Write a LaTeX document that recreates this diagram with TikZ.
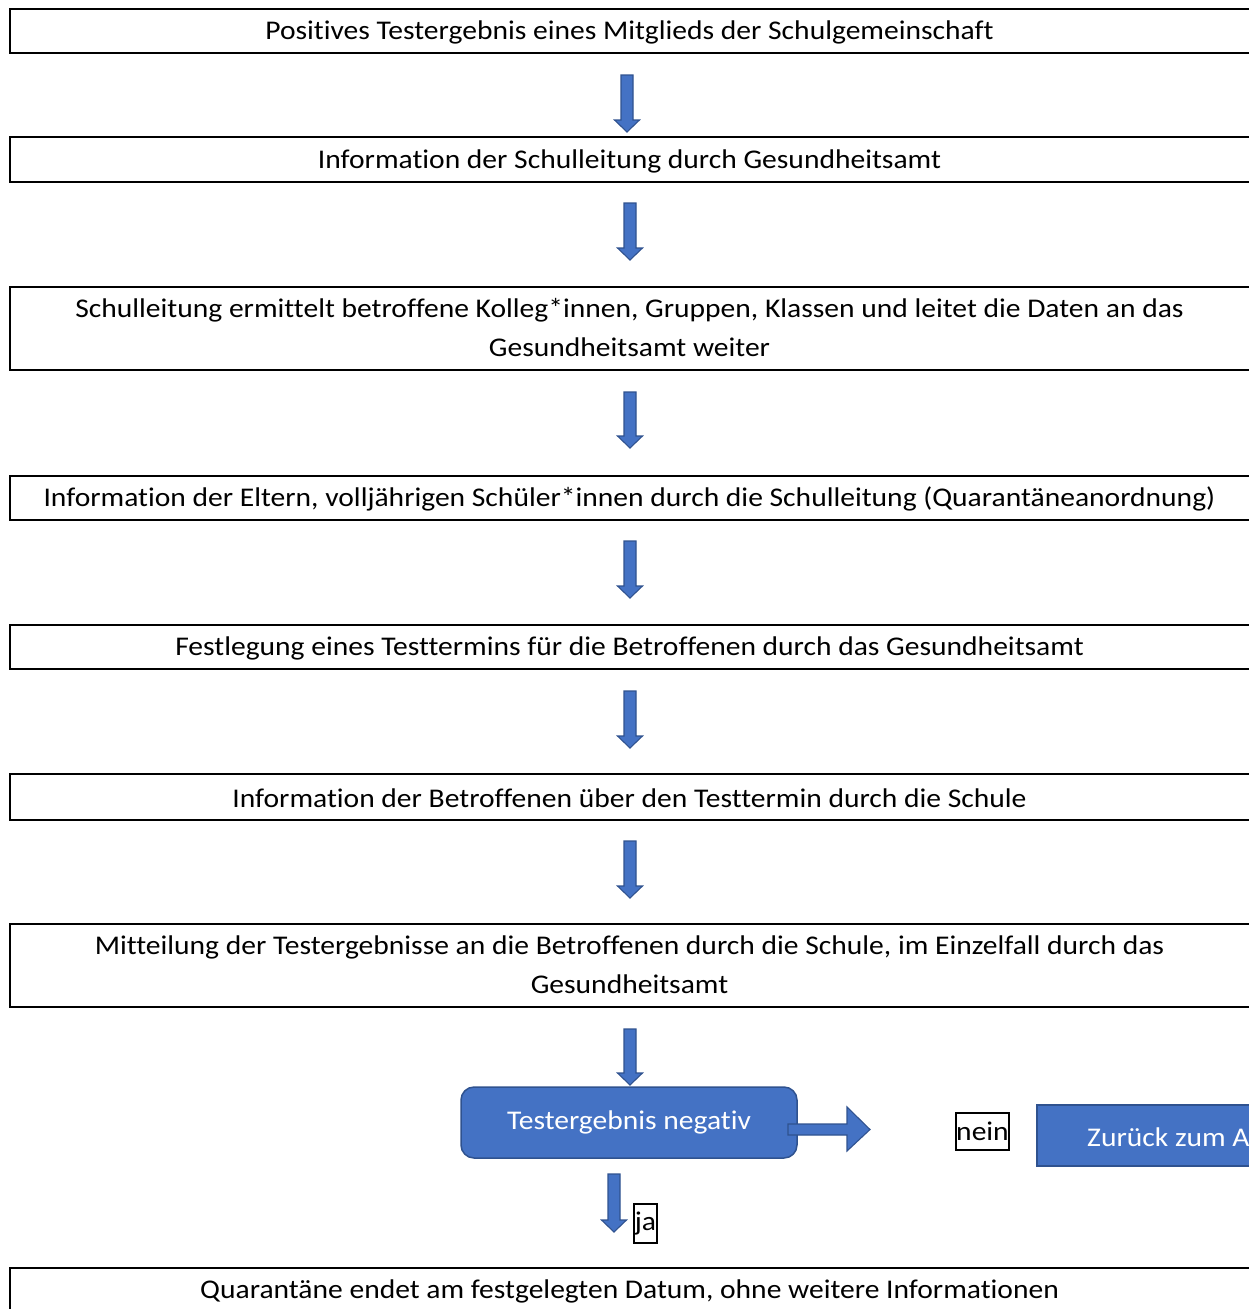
\documentclass[tikz,border=0pt]{standalone}
\usepackage{fontspec}
\usepackage{graphicx}
\setmainfont{Carlito}[Ligatures={NoCommon,NoRequired,NoContextual}]
\definecolor{acc}{HTML}{4472C4}
\definecolor{accd}{HTML}{2F528F}
\newcommand\fsz{\fontsize{27}{38.5}\selectfont}
\newcommand\sx[1]{\scalebox{1.095}[1]{#1}}
\newcommand\sxx[2]{\scalebox{1.095}[1]{\begin{tabular}{@{}c@{}}#1\\[0pt]#2\end{tabular}}}
\newcommand\darrow[3]{%
  \draw[barrow] ({#1-6},#2) -- ({#1+6},#2) -- ({#1+6},{#3-12}) -- ({#1+12.5},{#3-12}) -- (#1,#3) -- ({#1-12.5},{#3-12}) -- ({#1-6},{#3-12}) -- cycle;}
\tikzset{
  box/.style={draw=black, line width=1.8pt},
  txt/.style={font=\fsz, text=black, align=center, inner sep=0pt},
  barrow/.style={fill=acc, draw=accd, line width=1.1pt, line join=miter},
  lbl/.style={draw=black, line width=1.5pt, font=\fsz, inner sep=0pt, text=black},
}
\begin{document}
\begin{tikzpicture}[x=1pt, y=-1pt]
\useasboundingbox (0,0) rectangle (1249,1309);
\clip (0,0) rectangle (1249,1309);
% boxes
\draw[box] (10,9) rectangle (1262,53);
\node[txt] (t1) at (629.5,32) {\sx{Positives Testergebnis eines Mitglieds der Schulgemeinschaft}};
\draw[box] (10,137) rectangle (1262,182);
\node[txt] (t2) at (629.5,161) {\sx{Information der Schulleitung durch Gesundheitsamt}};
\draw[box] (10,287) rectangle (1262,370);
\node[txt] (t3) at (629.5,329.5) {\sxx{Schulleitung ermittelt betroffene Kolleg*innen, Gruppen, Klassen und leitet die Daten an das}{Gesundheitsamt weiter}};
\draw[box] (10,476) rectangle (1262,520);
\node[txt] (t4) at (629.5,499) {\sx{Information der Eltern, volljährigen Schüler*innen durch die Schulleitung (Quarantäneanordnung)}};
\draw[box] (10,625) rectangle (1262,669);
\node[txt] (t5) at (629.5,648.5) {\sx{Festlegung eines Testtermins für die Betroffenen durch das Gesundheitsamt}};
\draw[box] (10,774) rectangle (1262,820);
\node[txt] (t6) at (629.5,798.5) {\sx{Information der Betroffenen über den Testtermin durch die Schule}};
\draw[box] (10,924) rectangle (1262,1007);
\node[txt] (t7) at (629.5,966.5) {\sxx{Mitteilung der Testergebnisse an die Betroffenen durch die Schule, im Einzelfall durch das}{Gesundheitsamt}};
\draw[box] (10,1268) rectangle (1262,1330);
\node[txt] (t8) at (629.5,1291.5) {\sx{Quarantäne endet am festgelegten Datum, ohne weitere Informationen}};
% down arrows
\darrow{627}{75}{132}
\darrow{630}{203}{260}
\darrow{630}{392}{448}
\darrow{630}{541}{598}
\darrow{630}{691}{748}
\darrow{630}{841}{898}
\darrow{630}{1029}{1085}
% decision
\node[draw=accd, fill=acc, line width=1.5pt, rounded corners=13pt, minimum width=336pt, minimum height=71pt, inner sep=0pt] (neg) at (629,1122.5) {};
\node[font=\fsz, text=white, inner sep=0pt] (negt) at (629,1122.5) {\sx{Testergebnis negativ}};
\draw[barrow] (788,1124) -- (847,1124) -- (847,1107) -- (870,1129.5) -- (847,1151) -- (847,1135) -- (788,1135) -- cycle;
\node[lbl, minimum width=53pt, minimum height=37pt] (nein) at (982.5,1131.5) {\sx{nein}};
\draw[draw=accd, fill=acc, line width=1.5pt] (1037,1105) rectangle (1262,1166);
\node[font=\fsz, text=white, anchor=west, inner sep=0pt] (zur) at (1087,1137) {\sx{Zurück zum A}};
\darrow{614}{1174}{1232}
\node[lbl, minimum width=23pt, minimum height=39pt] (ja) at (645.5,1223.5) {\sx{ja}};
\end{tikzpicture}
\end{document}
